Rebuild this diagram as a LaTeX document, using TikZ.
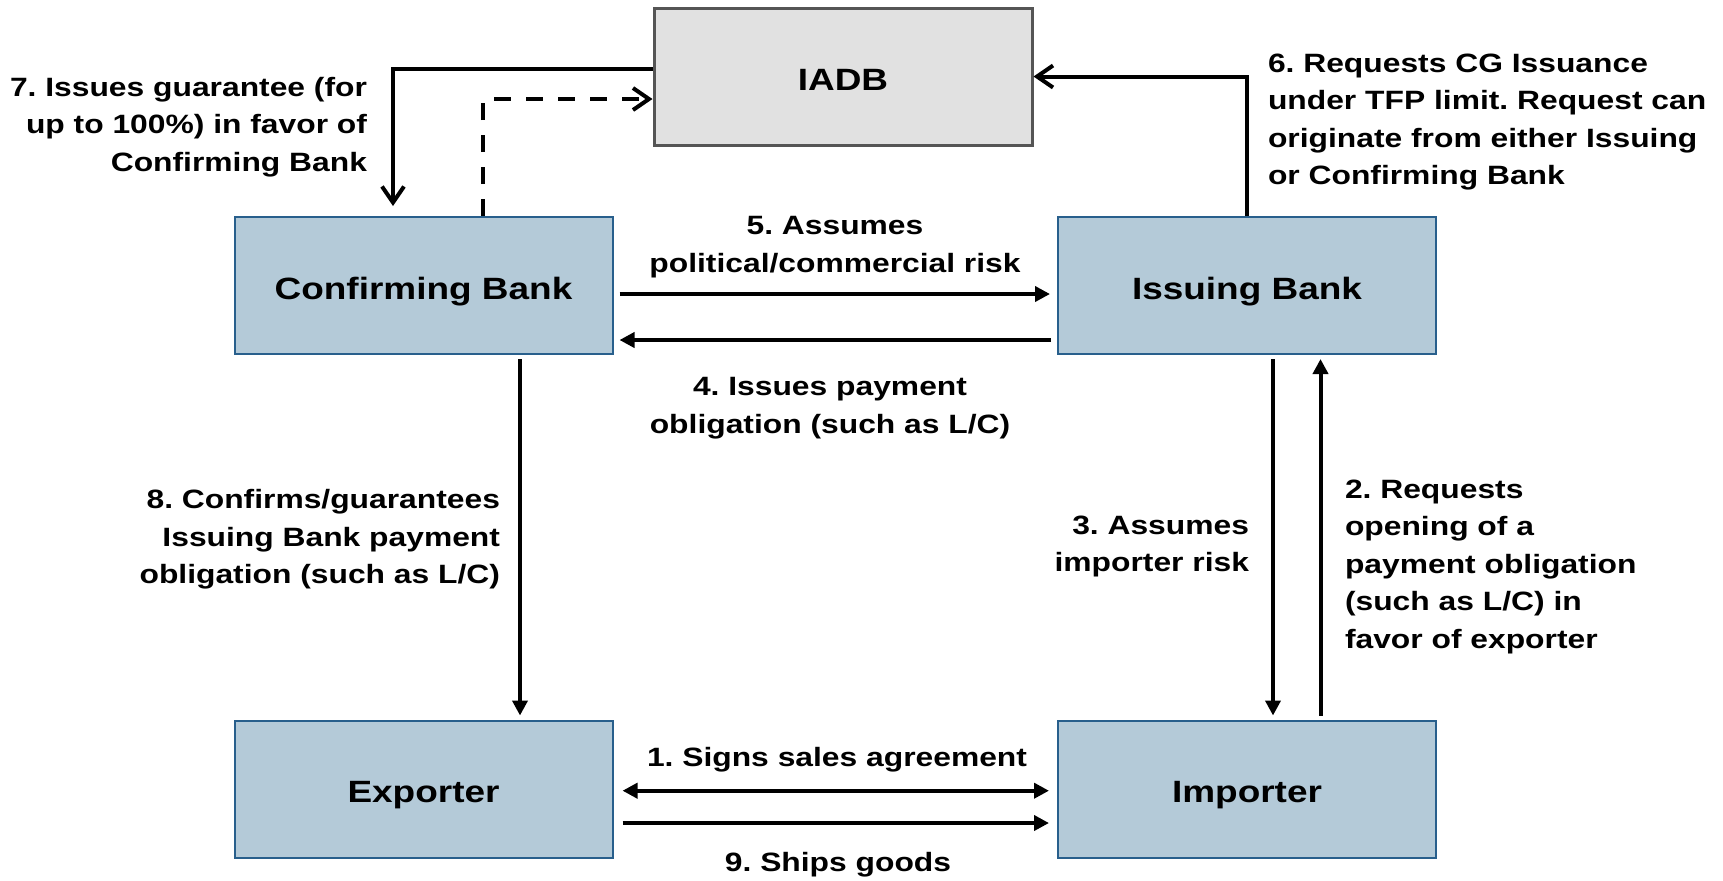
\documentclass[tikz,border=0pt]{standalone}
\usepackage{fontspec}
\setmainfont{Liberation Sans}[FakeStretch=1.2]
\usetikzlibrary{arrows.meta}
\definecolor{boxblue}{RGB}{180,202,216}
\definecolor{boxline}{RGB}{40,95,140}
\definecolor{iadbgray}{RGB}{225,225,225}
\definecolor{iadbline}{RGB}{85,85,85}

\begin{document}
\frenchspacing
\begin{tikzpicture}[x=0.5pt, y=-0.5pt, line width=2pt,
    party/.style={draw=boxline, line width=1pt, fill=boxblue, inner sep=0pt,
      minimum width=189pt, minimum height=68.5pt, text height=16pt, text depth=2.5pt,
      font=\fontsize{15.4}{18}\selectfont\bfseries},
    lbl/.style={inner sep=0pt, font=\fontsize{13.25}{18.75}\selectfont\bfseries},
    solidtip/.style={-{Triangle[length=7.5pt,width=7.5pt]}},
    twoway/.style={{Triangle[length=7.5pt,width=7.5pt]}-{Triangle[length=7.5pt,width=7.5pt]}},
    opentip/.style={-{Straight Barb[length=8pt,width=11pt]}}]
  \useasboundingbox (0,0) rectangle (1723,880);

  % parties
  \node[party, fill=iadbgray, draw=iadbline, line width=1.5pt] (iadb) at (843,76.5) {IADB};
  \node[party] (conf) at (423.5,285.5) {Confirming Bank};
  \node[party] (iss) at (1247,285.5) {Issuing Bank};
  \node[party] (exp) at (423.5,789) {Exporter};
  \node[party] (imp) at (1247,789) {Importer};

  % flows between the parties
  \draw[twoway, shorten <=4.5pt, shorten >=4pt] ([yshift=-0.85pt]exp.east) -- ([yshift=-0.85pt]imp.west);
  \draw[solidtip, shorten <=4.5pt, shorten >=4pt] ([yshift=-17pt]exp.east) -- ([yshift=-17pt]imp.west);
  \draw[solidtip, shorten <=2pt, shorten >=2pt] ([xshift=36.75pt]imp.north) -- ([xshift=36.75pt]iss.south);
  \draw[solidtip, shorten <=2pt, shorten >=2pt] ([xshift=13pt]iss.south) -- ([xshift=13pt]imp.north);
  \draw[solidtip, shorten <=3pt, shorten >=3pt] ([yshift=-27.25pt]iss.west) -- ([yshift=-27.25pt]conf.east);
  \draw[solidtip, shorten <=3pt, shorten >=3.5pt] ([yshift=-4.25pt]conf.east) -- ([yshift=-4.25pt]iss.west);
  \draw[opentip] (iss.north) |- (iadb.east);
  \draw[opentip, shorten >=5pt] ([yshift=3.75pt]iadb.west) -| ([xshift=-15.25pt]conf.north);
  \draw[solidtip, shorten <=2pt, shorten >=2pt] ([xshift=48.25pt]conf.south) -- ([xshift=48.25pt]exp.north);
  \draw[opentip, dashed, dash pattern=on 8.5pt off 7.5pt] ([xshift=29.75pt]conf.north) |- ([yshift=-11.25pt]iadb.west);

  % labels
  \node[lbl, anchor=north] (l1) at (837,745.5) {1. Signs sales agreement};
  \node[lbl, anchor=north west, align=left] (l2) at (1343,477.5) {2. Requests\\opening of a\\payment obligation\\(such as L/C) in\\favor of exporter};
  \node[lbl, anchor=north east, align=right] (l3) at (1251,513.5) {3. Assumes\\importer risk};
  \node[lbl, anchor=north, align=center] (l4) at (830,375.5) {4. Issues payment\\obligation (such as L/C)};
  \node[lbl, anchor=north, align=center] (l5) at (835,214.5) {5. Assumes\\political/commercial risk};
  \node[lbl, anchor=north west, align=left] (l6) at (1266,51.5) {6. Requests CG Issuance\\under TFP limit. Request can\\originate from either Issuing\\or Confirming Bank};
  \node[lbl, anchor=north east, align=right] (l7) at (369,75) {7. Issues guarantee (for\\up to 100\%) in favor of\\Confirming Bank};
  \node[lbl, anchor=north east, align=right] (l8) at (502,487.5) {8. Confirms/guarantees\\Issuing Bank payment\\obligation (such as L/C)};
  \node[lbl, anchor=north] (l9) at (838,850) {9. Ships goods};
\end{tikzpicture}
\end{document}
